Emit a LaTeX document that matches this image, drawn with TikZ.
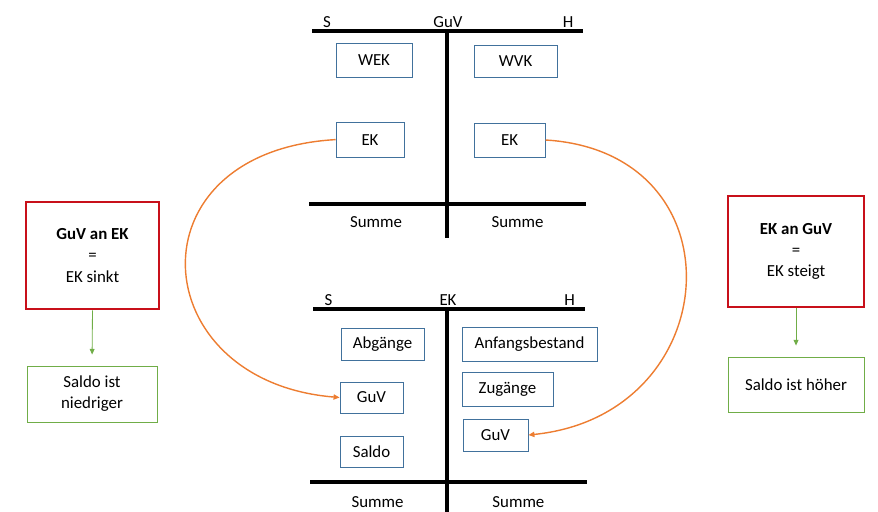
\documentclass[tikz,border=0pt]{standalone}
\usepackage{fontspec}
\setmainfont{Carlito}
\usetikzlibrary{arrows.meta,positioning,calc}
\usepackage{xcolor}
\definecolor{boxblue}{RGB}{65,113,156}
\definecolor{boxred}{RGB}{200,16,26}
\definecolor{boxgreen}{RGB}{112,173,71}
\definecolor{arrorange}{RGB}{237,125,49}

\begin{document}
\begin{tikzpicture}[
    acct/.style={line width=2.8pt, black},
    posten/.style={rectangle, draw=boxblue, line width=0.6pt, minimum height=0.8cm, inner sep=2pt, font=\fontsize{12}{15}\selectfont},
    lbl/.style={anchor=base, inner sep=0pt, font=\fontsize{12}{15}\selectfont},
    regel/.style={rectangle, draw=boxred, line width=1.8pt, minimum width=3.3cm, align=center, font=\fontsize{12}{15}\selectfont},
    folge/.style={rectangle, draw=boxgreen, line width=0.6pt, minimum width=3.3cm, align=center, font=\fontsize{12}{15}\selectfont},
    garr/.style={-{Triangle[length=1.4mm,width=1.2mm]}, boxgreen, line width=0.6pt, shorten >=0.275cm},
    oarr/.style={-{Triangle[length=1.5mm,width=1.3mm]}, arrorange, line width=1pt}
]
    \useasboundingbox (0,0) rectangle (21.95,-12.8);

    % GuV-Konto
    \draw[acct] (7.8,-0.775) -- (14.575,-0.775);
    \draw[acct] (11.175,-0.775) -- (11.175,-5.95);
    \draw[acct] (7.725,-5.1) -- (14.65,-5.1);
    \node[lbl] (guvS) at (8.175,-0.7) {S};
    \node[lbl] (guvT) at (11.2,-0.7) {GuV};
    \node[lbl] (guvHl) at (14.2,-0.7) {H};
    \node[lbl] (sum1) at (9.4,-5.7) {Summe};
    \node[lbl] (sum2) at (12.94,-5.7) {Summe};

    \node[posten, minimum width=1.9cm, minimum height=0.85cm] (wek) at (9.35,-1.5) {WEK};
    \node[posten, minimum width=2.075cm] (wvk) at (12.89,-1.525) {WVK};
    \node[posten, minimum width=1.7cm, minimum height=0.875cm] (ekS) at (9.25,-3.49) {EK};
    \node[posten, minimum width=1.775cm, minimum height=0.85cm] (ekH) at (12.74,-3.5) {EK};

    % EK-Konto
    \draw[acct] (7.825,-7.725) -- (14.625,-7.725);
    \draw[acct] (11.175,-7.725) -- (11.175,-12.8);
    \draw[acct] (7.75,-12.05) -- (14.675,-12.05);
    \node[lbl] (ekSl) at (8.21,-7.65) {S};
    \node[lbl] (ekT) at (11.2,-7.65) {EK};
    \node[lbl] (ekHl) at (14.24,-7.65) {H};
    \node[lbl] (sum3) at (9.44,-12.675) {Summe};
    \node[lbl] (sum4) at (12.96,-12.675) {Summe};

    \node[posten, minimum width=2.075cm] (abg) at (9.5625,-8.6) {Abgänge};
    \node[posten, minimum width=1.575cm, minimum height=0.775cm] (guvL) at (9.2875,-9.9375) {GuV};
    \node[posten, minimum width=1.575cm, minimum height=0.775cm] (saldo) at (9.2875,-11.2875) {Saldo};
    \node[posten, minimum width=3.375cm, minimum height=0.85cm] (anf) at (13.2375,-8.6) {Anfangsbestand};
    \node[posten, minimum width=2.275cm, minimum height=0.85cm] (zug) at (12.6875,-9.725) {Zugänge};
    \node[posten, minimum width=1.625cm] (guvR) at (12.3875,-10.875) {GuV};

    % Buchungen
    \draw[oarr] (ekS.west) .. controls +(-5.2,-0.3) and +(-4.9,0.4) .. (guvL.west);
    \draw[oarr] (ekH.east) .. controls +(4.95,-0.3) and +(4.95,0.5) .. (guvR.east);

    % Merksaetze
    \node[regel, minimum width=3.325cm, minimum height=2.675cm] (rotL) at (2.3125,-6.3875) {\textbf{GuV an EK}\\=\\EK sinkt};
    \node[folge, minimum width=3.25cm, minimum height=1.4cm] (gruenL) at (2.3,-9.85) {Saldo ist\\niedriger};
    \node[regel, minimum width=3.4cm, minimum height=2.775cm] (rotR) at (19.9,-6.2875) {\textbf{EK an GuV}\\=\\EK steigt};
    \node[folge, minimum width=3.4cm, minimum height=1.375cm] (gruenR) at (19.9,-9.6125) {Saldo ist höher};
    \draw[garr] (rotL.south) -- (gruenL.north);
    \draw[garr] (rotR.south) -- (gruenR.north);
\end{tikzpicture}
\end{document}
